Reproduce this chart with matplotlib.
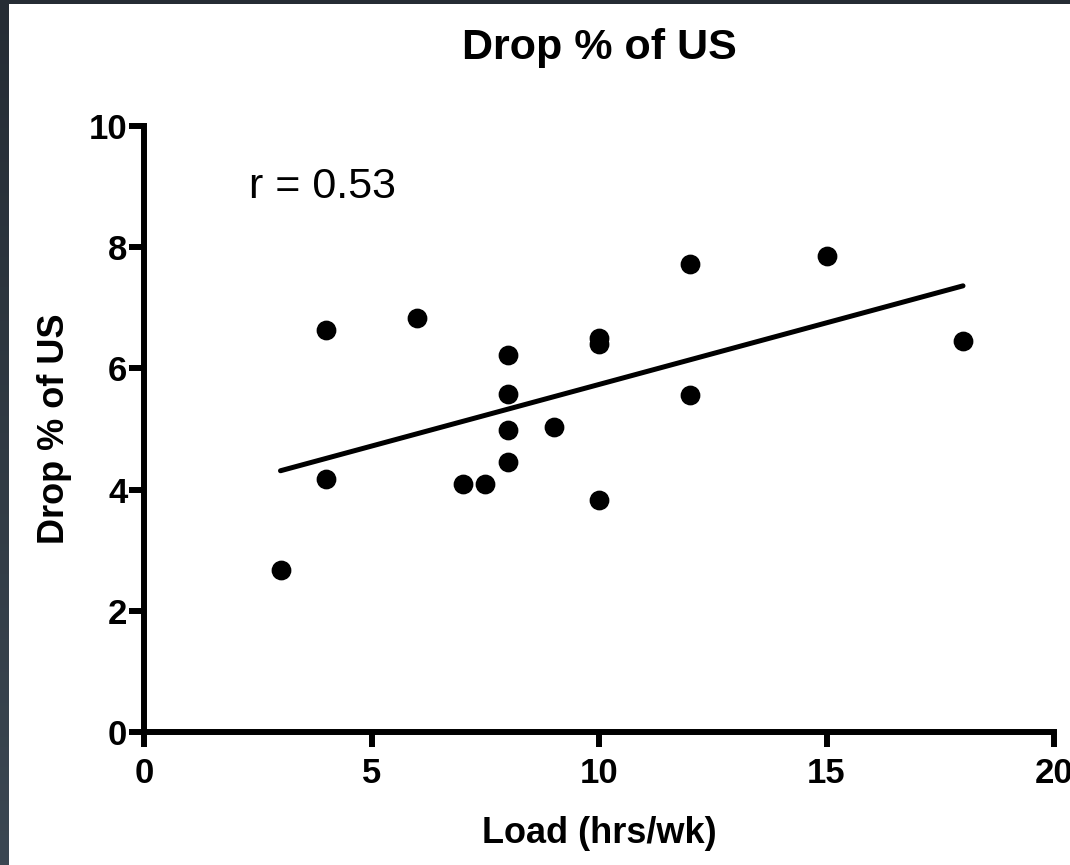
import numpy as np
import matplotlib
matplotlib.use("Agg")
import matplotlib.pyplot as plt
from matplotlib.colors import LinearSegmentedColormap

load_hrs = [3, 4, 4, 6, 7, 7.5, 8, 8, 8, 8, 9, 10, 10, 10, 12, 12, 15, 18]
drop_pct = [2.67, 4.17, 6.63, 6.83, 4.09, 4.09, 4.46, 4.98, 5.58, 6.22,
            5.03, 3.83, 6.50, 6.40, 7.72, 5.56, 7.85, 6.45]
x_ticks = [0, 5, 10, 15, 20]
y_ticks = [0, 2, 4, 6, 8, 10]
r_label = "r = 0.53"

plt.rcParams['font.family'] = ['Liberation Sans', 'DejaVu Sans']

fig = plt.figure(figsize=(10.7, 8.65), dpi=100)
fig.patch.set_facecolor('white')

# dark frame on left and top
frame_ax = fig.add_axes([0, 0, 9 / 1070, 1])
grad = np.linspace(0, 1, 256).reshape(-1, 1)
cmap = LinearSegmentedColormap.from_list('frame', ['#3b4752', '#252c34'])
frame_ax.imshow(grad, aspect='auto', cmap=cmap, origin='lower')
frame_ax.axis('off')
top_ax = fig.add_axes([0, 1 - 4 / 865, 1, 4 / 865])
top_ax.set_facecolor('#252c34')
top_ax.set_xticks([]); top_ax.set_yticks([])
for s in top_ax.spines.values():
    s.set_visible(False)

ax = fig.add_axes([144 / 1070, (865 - 732) / 865, 910 / 1070, 606 / 865])
ax.scatter(load_hrs, drop_pct, s=175, color='black', zorder=3, clip_on=False)

slope, intercept = np.polyfit(load_hrs, drop_pct, 1)
xl = np.array([min(load_hrs), max(load_hrs)])
ax.plot(xl, slope * xl + intercept, color='black', lw=3.6, solid_capstyle='round', zorder=2)

ax.set_xlim(0, 20)
ax.set_ylim(0, 10)
ax.set_xticks(x_ticks)
ax.set_yticks(y_ticks)
for s in ['top', 'right']:
    ax.spines[s].set_visible(False)
for s in ['left', 'bottom']:
    ax.spines[s].set_linewidth(4.3)
    ax.spines[s].set_capstyle('projecting')
ax.tick_params(axis='both', length=11, width=4.3, direction='out', labelsize=25)
ax.tick_params(axis='x', pad=7)
ax.tick_params(axis='y', pad=1)
for lab in ax.get_xticklabels() + ax.get_yticklabels():
    lab.set_fontweight('bold')

ax.set_xlabel('Load (hrs/wk)', fontsize=26, fontweight='bold', labelpad=19)
ax.set_ylabel('Drop % of US', fontsize=26, fontweight='bold', labelpad=12)
ax.set_title('Drop % of US', fontsize=31, fontweight='bold', pad=48)
ax.text(2.3, 9.0, r_label, fontsize=31, ha='left', va='center')

fig.savefig('out.png', dpi=100, facecolor='white')
